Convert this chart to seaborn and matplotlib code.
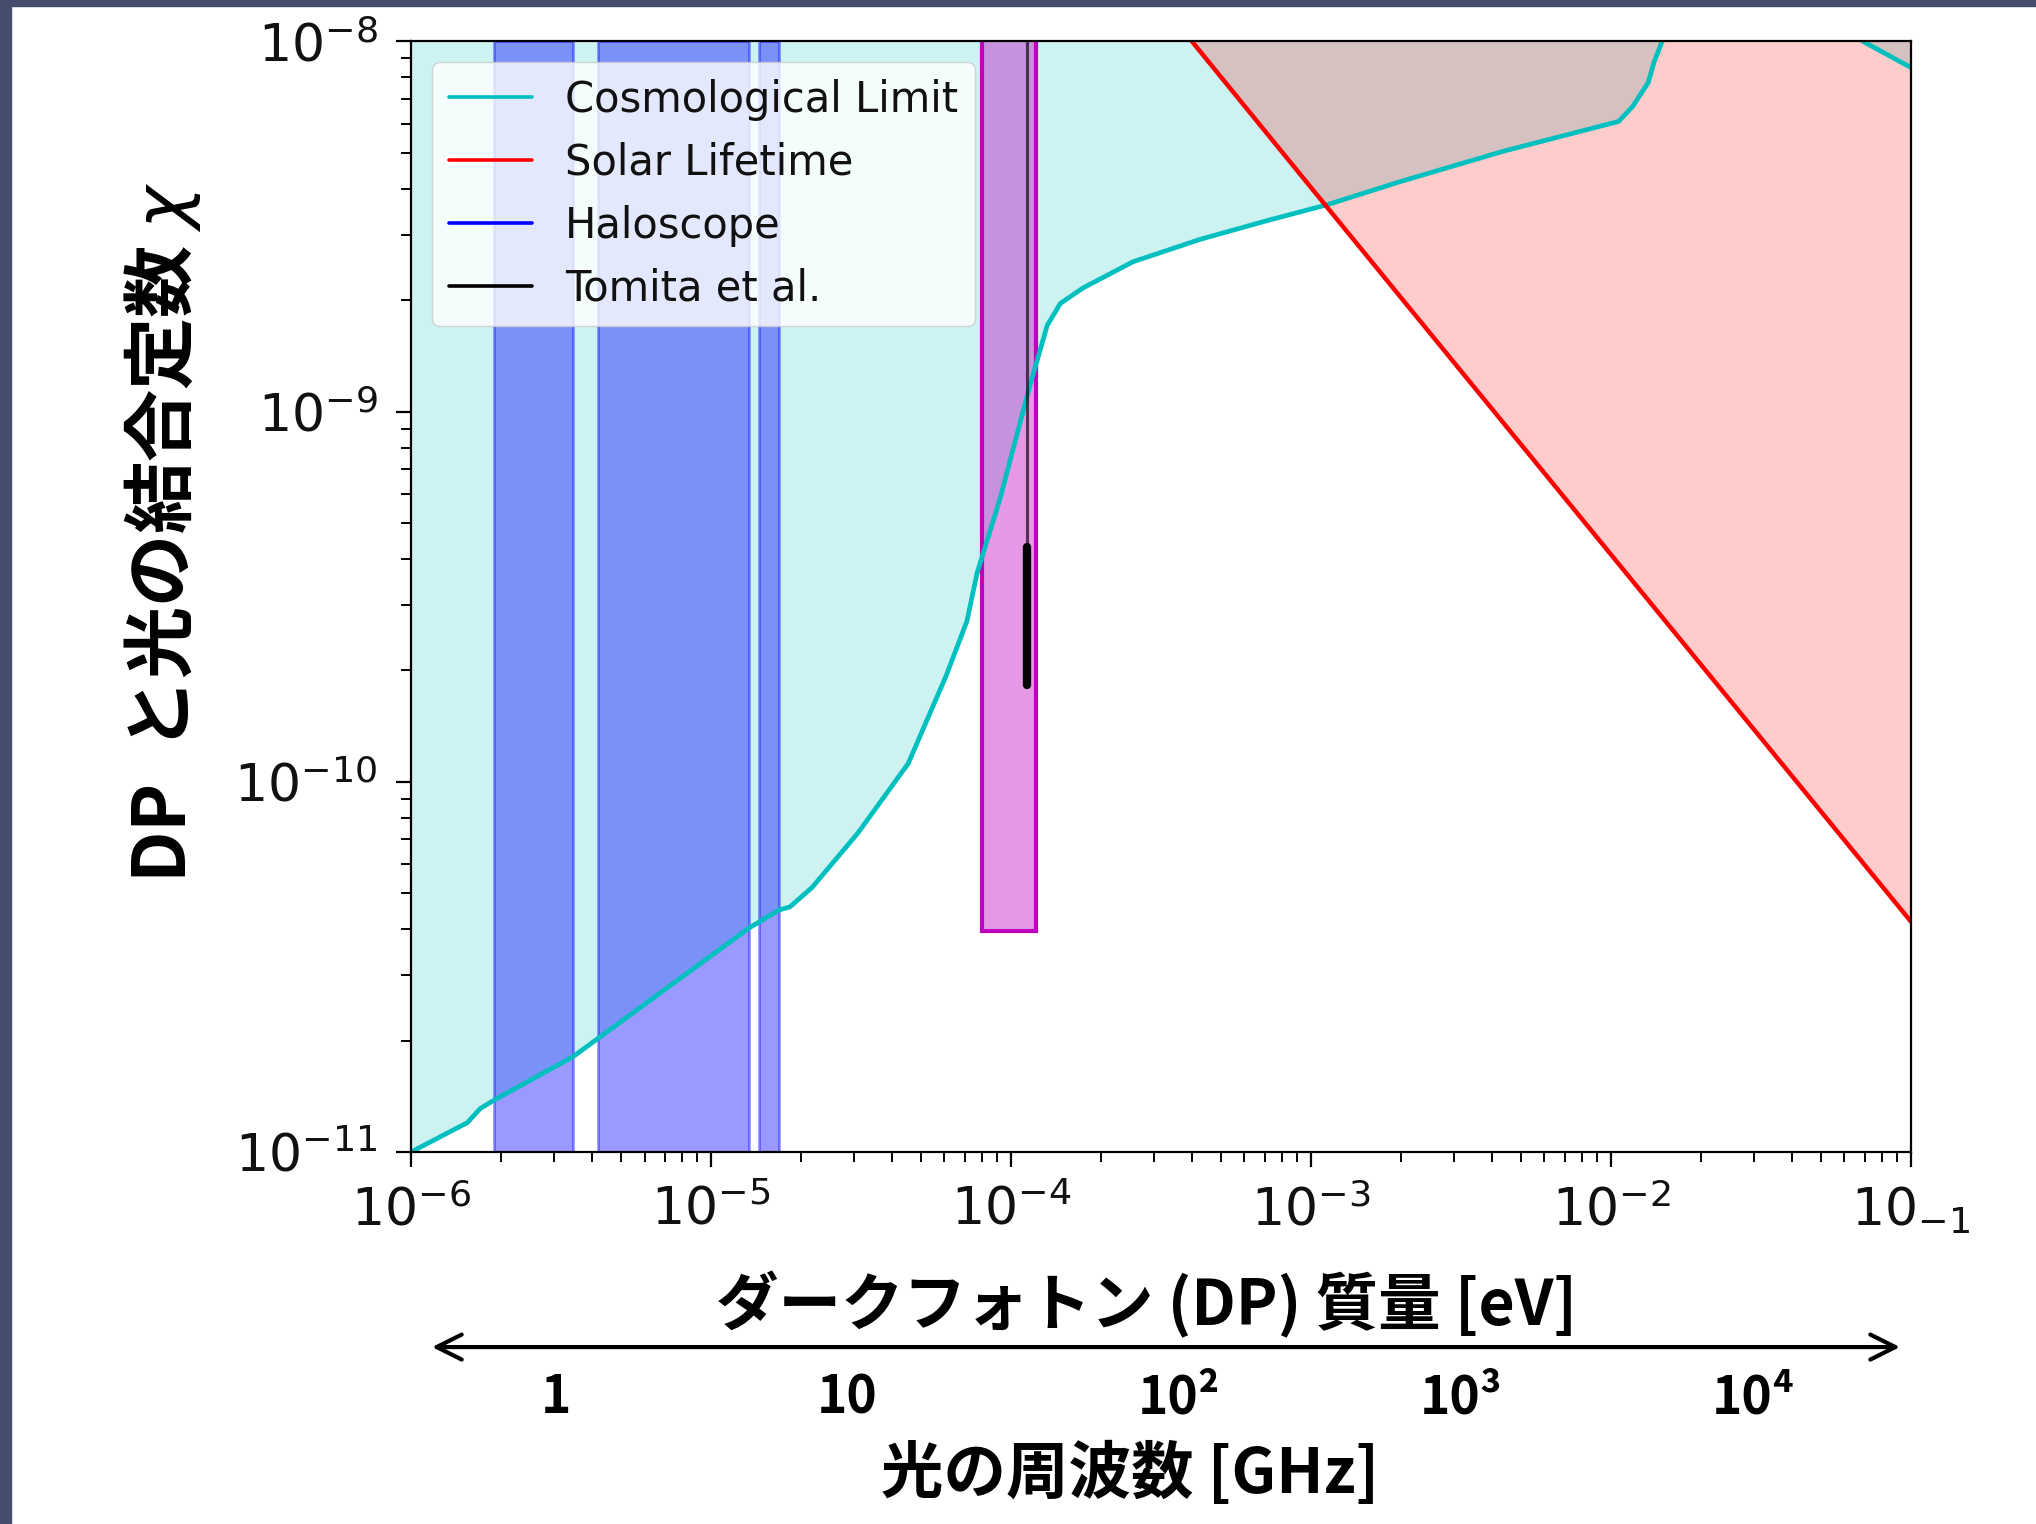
import matplotlib
matplotlib.use("Agg")
import matplotlib.pyplot as plt
from matplotlib.lines import Line2D
from matplotlib.patches import Rectangle
from matplotlib.ticker import FixedLocator, LogLocator, NullFormatter
import pandas as pd
import seaborn as sns

# --- values --------------------------------------------------------------
# cosmological limit (mass in eV, coupling chi)
COSMO_MASS = [1.0e-6, 1.54e-6, 1.70e-6, 1.89e-6, 3.47e-6, 1.34e-5, 1.69e-5,
              1.83e-5, 2.17e-5, 3.09e-5, 4.54e-5, 6.07e-5, 7.13e-5, 7.71e-5,
              9.19e-5, 1.16e-4, 1.23e-4, 1.32e-4, 1.46e-4, 1.74e-4, 2.55e-4,
              4.27e-4, 7.13e-4, 1.13e-3, 1.98e-3, 4.37e-3, 1.06e-2, 1.18e-2,
              1.33e-2, 1.39e-2, 1.48e-2, 1.7e-2, 5.0e-2, 6.92e-2, 1.0e-1]
COSMO_CHI = [1.0e-11, 1.20e-11, 1.31e-11, 1.38e-11, 1.81e-11, 4.03e-11, 4.51e-11,
             4.59e-11, 5.18e-11, 7.28e-11, 1.12e-10, 1.93e-10, 2.72e-10, 3.67e-10,
             5.82e-10, 1.19e-9, 1.40e-9, 1.71e-9, 1.96e-9, 2.16e-9, 2.54e-9,
             2.92e-9, 3.28e-9, 3.62e-9, 4.18e-9, 5.05e-9, 6.08e-9, 6.67e-9,
             7.74e-9, 8.77e-9, 1.0e-8, 1.4e-8, 1.4e-8, 1.0e-8, 8.5e-9]

# solar lifetime bound
SOLAR_MASS = [3.5e-4, 1.0e-3, 1.0e-2, 1.0e-1]
SOLAR_CHI = [1.145e-8, 4.03e-9, 4.11e-10, 4.19e-11]

# haloscope mass ranges
HALO_LO = [1.89e-6, 4.20e-6, 1.445e-5]
HALO_HI = [3.47e-6, 1.34e-5, 1.69e-5]

# purple search box
BOX_MASS = [8.0e-5, 1.21e-4]
BOX_CHI_LO = 3.95e-11

# Tomita et al.
TOMITA_MASS = 1.127e-4
TOMITA_CHI = [1.83e-10, 4.31e-10]

XTICKS = [1e-6, 1e-5, 1e-4, 1e-3, 1e-2, 1e-1]
XTICK_LABELS = [r"$10^{-6}$", r"$10^{-5}$", r"$10^{-4}$", r"$10^{-3}$",
                r"$10^{-2}$", r"$10_{-1}$"]
YTICKS = [1e-11, 1e-10, 1e-9, 1e-8]
YTICK_LABELS = [r"$10^{-11}$", r"$10^{-10}$", r"$10^{-9}$", r"$10^{-8}$"]

LEGEND_LABELS = ["Cosmological Limit", "Solar Lifetime", "Haloscope", "Tomita et al."]
LEGEND_COLORS = ["c", "r", "b", "k"]

FREQ_LABELS = ["1", "10", "10²", "10³", "10⁴"]
FREQ_POS = [0.273, 0.416, 0.579, 0.7176, 0.861]

TOP = 1e-7  # fills run up past the visible top

sns.set_style("ticks")
plt.rcParams["font.family"] = ["DejaVu Sans", "Noto Sans CJK JP"]
plt.rcParams["text.color"] = "black"
JP = ["Noto Sans CJK JP", "DejaVu Sans"]

fig = plt.figure(figsize=(20.36, 15.24), dpi=100)
ax = fig.add_axes([0.2019, 0.2441, 0.7367, 0.7287])
ax.set_xscale("log")
ax.set_yscale("log")

cosmo = pd.DataFrame({"mass": COSMO_MASS, "chi": COSMO_CHI})
solar = pd.DataFrame({"mass": SOLAR_MASS, "chi": SOLAR_CHI})

ax.fill_between(cosmo["mass"], cosmo["chi"], TOP, color="c", alpha=0.2, lw=0)
ax.fill_between(solar["mass"], solar["chi"], TOP, color="r", alpha=0.2, lw=0)

for lo, hi in zip(HALO_LO, HALO_HI):
    ax.axvspan(lo, hi, color="b", alpha=0.4, lw=2)

ax.add_patch(Rectangle((BOX_MASS[0], BOX_CHI_LO), BOX_MASS[1] - BOX_MASS[0],
                       TOP - BOX_CHI_LO, facecolor=(0.75, 0, 0.75, 0.4),
                       edgecolor=(0.75, 0, 0.75), lw=3))

sns.lineplot(data=cosmo, x="mass", y="chi", ax=ax, color="c", lw=3.4,
             estimator=None, sort=False, legend=False)
sns.lineplot(data=solar, x="mass", y="chi", ax=ax, color="r", lw=3.2,
             estimator=None, sort=False, legend=False)

ax.plot([TOMITA_MASS, TOMITA_MASS], [TOMITA_CHI[1], TOP], color="k", lw=2.2, alpha=0.65)
ax.plot([TOMITA_MASS, TOMITA_MASS], TOMITA_CHI, color="k", lw=6, solid_capstyle="round")

ax.set_xlim(1e-6, 1e-1)
ax.set_ylim(1e-11, 1e-8)
ax.set_xlabel("")
ax.set_ylabel("")

ax.xaxis.set_major_locator(FixedLocator(XTICKS))
ax.set_xticklabels(XTICK_LABELS)
ax.yaxis.set_major_locator(FixedLocator(YTICKS))
ax.set_yticklabels(YTICK_LABELS)
ax.xaxis.set_minor_locator(LogLocator(base=10, subs=range(2, 10), numticks=50))
ax.yaxis.set_minor_locator(LogLocator(base=10, subs=range(2, 10), numticks=50))
ax.xaxis.set_minor_formatter(NullFormatter())
ax.yaxis.set_minor_formatter(NullFormatter())
ax.tick_params(which="major", length=11, width=1.6, labelsize=37.5, pad=13,
               color="black", labelcolor="#111111")
ax.tick_params(which="minor", length=7, width=1.4, color="black")
for sp in ax.spines.values():
    sp.set_linewidth(1.6)
    sp.set_color("black")

handles = [Line2D([], [], color=c, lw=2.6) for c in LEGEND_COLORS]
leg = ax.legend(handles, LEGEND_LABELS, loc="upper left", fontsize=30, frameon=True,
                framealpha=0.8, edgecolor="0.8", fancybox=True)
for t in leg.get_texts():
    t.set_color("#111111")

fig.text(0.0796, 0.651, "DP  と光の結合定数 $\\chi$", rotation=90, ha="center",
         va="center", fontsize=52, fontweight="bold", family=JP)
fig.text(0.563, 0.1437, "ダークフォトン (DP) 質量 [eV]", ha="center", va="center",
         fontsize=45, fontweight="bold", family=JP)

ax.annotate("", xy=(0.9332, 0.1161), xytext=(0.2122, 0.1161),
            xycoords="figure fraction", textcoords="figure fraction",
            arrowprops=dict(arrowstyle="<->", lw=3, color="black",
                            mutation_scale=45, shrinkA=0, shrinkB=0))
for lab, xp in zip(FREQ_LABELS, FREQ_POS):
    fig.text(xp, 0.0827, lab, ha="center", va="center", fontsize=37,
             fontweight="bold", family=JP)
fig.text(0.555, 0.0328, "光の周波数 [GHz]", ha="center", va="center",
         fontsize=45, fontweight="bold", family=JP)

# slide frame strips
slate = "#454d6d"
fig.add_artist(Rectangle((0, 0), 11 / 2036, 1, transform=fig.transFigure,
                         color=slate, zorder=10))
fig.add_artist(Rectangle((0, 1 - 6 / 1524), 1, 6 / 1524, transform=fig.transFigure,
                         color=slate, zorder=10))

fig.savefig("out.png", dpi=100)
